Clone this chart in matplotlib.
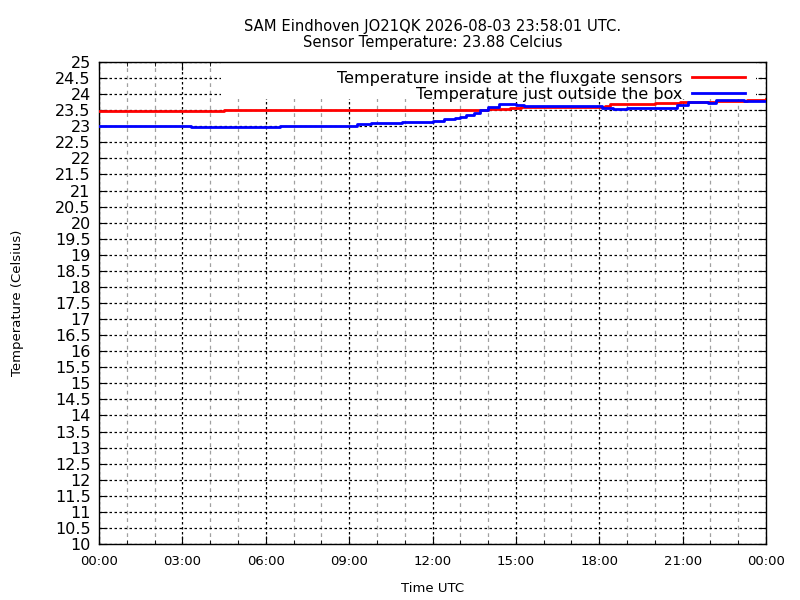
import numpy as np
import matplotlib
matplotlib.use("Agg")
import matplotlib.pyplot as plt
from matplotlib.patches import Rectangle

TITLE = "SAM Eindhoven JO21QK 2026-08-03 23:58:01 UTC.\nSensor Temperature: 23.88 Celcius"

# hours since 00:00 UTC and temperature in Celsius
inside_hours = [0, 1.5, 3, 4.5, 6, 7.5, 9, 10.5, 11, 12, 13, 13.7, 14.0, 14.5,
                14.8, 15.2, 16, 16.7, 17.5, 18.2, 18.4, 19, 20, 20.9, 21.3,
                22.2, 23.3, 24]
inside_temp = [23.48, 23.48, 23.49, 23.50, 23.50, 23.50, 23.50, 23.51, 23.52,
               23.52, 23.52, 23.52, 23.54, 23.55, 23.58, 23.60, 23.60, 23.59,
               23.60, 23.62, 23.69, 23.70, 23.72, 23.75, 23.77, 23.80, 23.82,
               23.84]

outside_hours = [0, 3.0, 3.3, 4.0, 5.0, 6.2, 6.5, 7.5, 9.3, 9.8, 10.9, 12.0,
                 12.4, 12.8, 13.0, 13.2, 13.5, 13.7, 14.0, 14.4, 15.0, 15.3,
                 16.0, 17.0, 18.1, 18.5, 19.0, 19.8, 20.8, 21.2, 21.9, 22.2,
                 23.2, 24]
outside_temp = [23.02, 23.01, 22.99, 22.98, 22.97, 22.99, 23.00, 23.01, 23.06,
                23.09, 23.13, 23.15, 23.22, 23.27, 23.30, 23.36, 23.42, 23.51,
                23.61, 23.69, 23.67, 23.63, 23.63, 23.64, 23.56, 23.53, 23.56,
                23.57, 23.66, 23.76, 23.72, 23.82, 23.80, 23.79]

x_ticks = [0, 3, 6, 9, 12, 15, 18, 21, 24]
x_labels = ["00:00", "03:00", "06:00", "09:00", "12:00", "15:00", "18:00",
            "21:00", "00:00"]
y_ticks = np.arange(10, 25.01, 0.5)


def main():
    fig = plt.figure(figsize=(8, 6), dpi=100)
    ax = fig.add_axes([0.12375, 0.0933, 0.83375, 0.8034])

    ax.set_xlim(0, 24)
    ax.set_ylim(10, 25)

    ax.set_xticks(x_ticks)
    ax.set_xticklabels(x_labels, fontsize=9.5)
    ax.set_xticks(np.arange(0, 24.01, 1), minor=True)
    ax.set_yticks(y_ticks)
    ax.set_yticklabels([f"{v:g}" for v in y_ticks], fontsize=11.5)

    ax.tick_params(which="major", direction="in", length=6, width=0.8,
                   top=True, right=True, pad=6)
    ax.tick_params(axis="x", which="major", pad=8)
    ax.tick_params(which="minor", direction="in", length=3, width=0.6,
                   top=True, right=True)

    ax.set_axisbelow(True)
    ax.grid(True, which="major", color="black", linestyle=(0, (2, 2)),
            linewidth=0.9)
    ax.grid(True, which="minor", axis="x", color="#a0a0a0",
            linestyle=(0, (3, 3)), linewidth=0.9)

    # opaque key area hides the grid behind it
    ax.add_patch(Rectangle((4.39, 23.85), 23.64 - 4.39, 25 - 23.85,
                           facecolor="white", edgecolor="none", zorder=1))

    ax.plot(inside_hours, inside_temp, color="#ff0000", linewidth=2,
            drawstyle="steps-post", zorder=3,
            label="Temperature inside at the fluxgate sensors")
    ax.plot(outside_hours, outside_temp, color="#0000ff", linewidth=2,
            drawstyle="steps-post", zorder=3,
            label="Temperature just outside the box")

    leg = ax.legend(loc="upper right", bbox_to_anchor=(0.978, 0.995),
                    frameon=False, markerfirst=False, fontsize=11.5,
                    handlelength=3.3, handletextpad=0.6, borderaxespad=0,
                    labelspacing=0.05)
    for t in leg.get_texts():
        t.set_ha("right")

    for s in ax.spines.values():
        s.set_linewidth(1.0)

    ax.set_title(TITLE, fontsize=10.6, pad=11, linespacing=1.05)
    ax.set_xlabel("Time UTC", fontsize=9.5, labelpad=10)
    ax.set_ylabel("Temperature (Celsius)", fontsize=9.5, labelpad=22)

    fig.savefig("out.png", dpi=100)
    plt.close(fig)


if __name__ == "__main__":
    main()
